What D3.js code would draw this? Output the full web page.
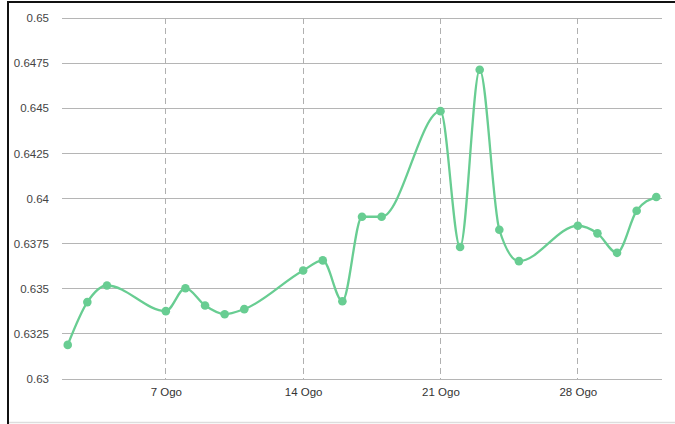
<!DOCTYPE html>
<html>
<head>
<meta charset="utf-8">
<script src="https://cdn.jsdelivr.net/npm/d3@7"></script>
<style>
  body { margin: 0; background: #fff; }
  svg { display: block; font-family: Arial, "Liberation Sans", sans-serif; }
</style>
</head>
<body>
<div id="chart"></div>
<script>
// day of August for each point
const days = [2, 3, 4, 7, 8, 9, 10, 11, 14, 15, 16, 17, 18, 21, 22, 23, 24, 25, 28, 29, 30, 31, 32];
const values = [0.63189, 0.63426, 0.63518, 0.63376, 0.63503, 0.63407, 0.63359, 0.63387,
  0.63601, 0.63657, 0.63431, 0.63899, 0.63899, 0.64484, 0.63731, 0.64713, 0.63827,
  0.63653, 0.63849, 0.63807, 0.63699, 0.63932, 0.64008];
const xTickDays = [7, 14, 21, 28];
const yTicks = [0.63, 0.6325, 0.635, 0.6375, 0.64, 0.6425, 0.645, 0.6475, 0.65];

const W = 675, H = 424;
const margin = { top: 18, right: 13, bottom: 45, left: 62 };
const width = W - margin.left - margin.right;
const height = H - margin.top - margin.bottom;

const ms = d3.timeFormatLocale({
  dateTime: "%a %e %b %Y %X", date: "%d/%m/%Y", time: "%H:%M:%S",
  periods: ["AM", "PM"],
  days: ["Ahad", "Isnin", "Selasa", "Rabu", "Khamis", "Jumaat", "Sabtu"],
  shortDays: ["Ahd", "Isn", "Sel", "Rab", "Kha", "Jum", "Sab"],
  months: ["Januari", "Februari", "Mac", "April", "Mei", "Jun", "Julai", "Ogos", "September", "Oktober", "November", "Disember"],
  shortMonths: ["Jan", "Feb", "Mac", "Apr", "Mei", "Jun", "Jul", "Ogo", "Sep", "Okt", "Nov", "Dis"]
});
const day = d => new Date(2023, 7, d);
const data = days.map((d, i) => ({ date: day(d), value: values[i] }));

const svg = d3.select('#chart').append('svg')
  .attr('width', W).attr('height', H);

// frame
svg.append('line').attr('x1', 7).attr('x2', W).attr('y1', 2).attr('y2', 2)
  .style('stroke', '#111').style('stroke-width', 2);
svg.append('line').attr('x1', 8).attr('x2', 8).attr('y1', 1).attr('y2', H)
  .style('stroke', '#111').style('stroke-width', 2);
svg.append('line').attr('x1', 9).attr('x2', W).attr('y1', 422.5).attr('y2', 422.5)
  .style('stroke', '#ddd').style('stroke-width', 1.5);

const g = svg.append('g').attr('transform', `translate(${margin.left},${margin.top})`);

const x = d3.scaleTime()
  .domain([new Date(2023, 7, 1, 17), new Date(2023, 8, 1, 7.5)])
  .range([0, width]);
const y = d3.scaleLinear().domain([0.63, 0.65]).range([height, 0]);

// horizontal grid
g.selectAll('line.y').data(yTicks).enter().append('line')
  .attr('class', 'y')
  .attr('x1', 0).attr('x2', width)
  .attr('y1', d => y(d)).attr('y2', d => y(d))
  .style('stroke', '#b5b5b5').style('shape-rendering', 'crispEdges');

// vertical dashed grid
g.selectAll('line.x').data(xTickDays).enter().append('line')
  .attr('class', 'x')
  .attr('x1', d => x(day(d))).attr('x2', d => x(day(d)))
  .attr('y1', 0).attr('y2', height)
  .style('stroke', '#b0b0b0').style('stroke-dasharray', '6,4')
  .style('shape-rendering', 'crispEdges');

// y axis labels
g.append('g')
  .call(d3.axisLeft(y).tickValues(yTicks).tickSize(0).tickPadding(13).tickFormat(d3.format('')))
  .call(a => a.select('.domain').remove())
  .selectAll('text').style('font-size', '11.5px').style('fill', '#444');

// x axis labels
g.append('g')
  .attr('transform', `translate(0,${height})`)
  .call(d3.axisBottom(x).tickValues(xTickDays.map(day)).tickSize(0).tickPadding(9)
    .tickFormat(ms.format('%-d %b')))
  .call(a => a.select('.domain').remove())
  .selectAll('text').style('font-size', '11.5px').style('fill', '#333');

const color = '#68cd92';

g.append('path')
  .datum(data)
  .attr('fill', 'none')
  .attr('stroke', color)
  .attr('stroke-width', 2.3)
  .attr('d', d3.line().x(d => x(d.date)).y(d => y(d.value)).curve(d3.curveMonotoneX));

g.selectAll('circle.pt').data(data).enter().append('circle')
  .attr('class', 'pt')
  .attr('cx', d => x(d.date))
  .attr('cy', d => y(d.value))
  .attr('r', 4.3)
  .style('fill', color);
</script>
</body>
</html>
